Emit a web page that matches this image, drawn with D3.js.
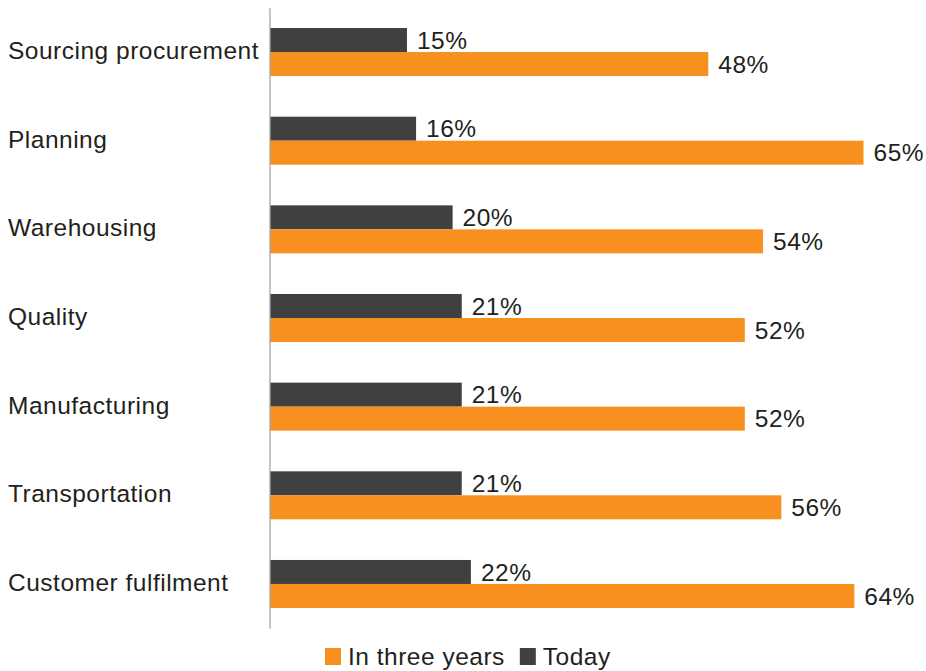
<!DOCTYPE html>
<html>
<head>
<meta charset="utf-8">
<script src="https://cdn.jsdelivr.net/npm/d3@7/dist/d3.min.js"></script>
<style>
  html, body { margin: 0; padding: 0; background: #ffffff; }
  svg text { font-family: "Liberation Sans", Arial, Helvetica, sans-serif; fill: #231f20; letter-spacing: 0.5px; }
</style>
</head>
<body>
<svg id="chart" width="926" height="671"></svg>
<script>
// Supply-chain functions, top to bottom
const categories = [
  "Sourcing procurement",
  "Planning",
  "Warehousing",
  "Quality",
  "Manufacturing",
  "Transportation",
  "Customer fulfilment"
];
const seriesNames = ["Today", "In three years"];
const todayValues = [15, 16, 20, 21, 21, 21, 22];
const threeYearValues = [48, 65, 54, 52, 52, 56, 64];
const legendOrder = ["In three years", "Today"];

const colors = { "Today": "#404040", "In three years": "#f7901e" };
const fontSize = "24.5px";

const svg = d3.select("#chart");

const x = d3.scaleLinear().domain([0, 65]).range([270, 863.5]);

const y = d3.scaleBand()
  .domain(categories)
  .range([7.7, 628.3])
  .paddingInner(0.4586)
  .paddingOuter(0.2293);

const ySub = d3.scaleBand()
  .domain(seriesNames)
  .range([0, y.bandwidth()])
  .padding(0);

const rows = categories.map((c, i) => ({
  category: c,
  values: [
    { series: "Today", value: todayValues[i] },
    { series: "In three years", value: threeYearValues[i] }
  ]
}));

const groups = svg.selectAll("g.row")
  .data(rows)
  .join("g")
  .attr("class", "row")
  .attr("transform", d => `translate(0,${y(d.category)})`);

groups.selectAll("rect")
  .data(d => d.values)
  .join("rect")
  .attr("x", x(0))
  .attr("y", d => ySub(d.series))
  .attr("width", d => x(d.value) - x(0))
  .attr("height", ySub.bandwidth())
  .attr("fill", d => colors[d.series]);

groups.selectAll("text.val")
  .data(d => d.values)
  .join("text")
  .attr("class", "val")
  .attr("x", d => x(d.value) + 10)
  .attr("y", d => ySub(d.series) + ySub.bandwidth() / 2)
  .attr("dy", "0.35em")
  .style("font-size", fontSize)
  .text(d => d.value + "%");

// Category axis: vertical baseline with left-aligned labels
const axis = svg.append("g")
  .attr("transform", `translate(${x(0) - 0.5},0)`)
  .call(d3.axisLeft(y).tickSize(0).tickPadding(0));

axis.select(".domain")
  .attr("stroke", "#a6a6a6")
  .attr("stroke-width", 1.3);

axis.selectAll(".tick text")
  .attr("x", 8 - (x(0) - 0.5))
  .attr("text-anchor", "start")
  .attr("dy", "0.28em")
  .attr("fill", "#231f20")
  .style("font-family", "\"Liberation Sans\", Arial, Helvetica, sans-serif")
  .style("font-size", fontSize);

// Legend
const legend = svg.append("g").attr("transform", "translate(325,648)");
let lx = 0;
legendOrder.forEach(name => {
  const item = legend.append("g").attr("transform", `translate(${lx},0)`);
  item.append("rect")
    .attr("width", 16)
    .attr("height", 17)
    .attr("fill", colors[name]);
  const t = item.append("text")
    .attr("x", 23)
    .attr("y", 8.5)
    .attr("dy", "0.35em")
    .style("font-size", fontSize)
    .text(name);
  lx += 23 + t.node().getComputedTextLength() + 15;
});
</script>
</body>
</html>
